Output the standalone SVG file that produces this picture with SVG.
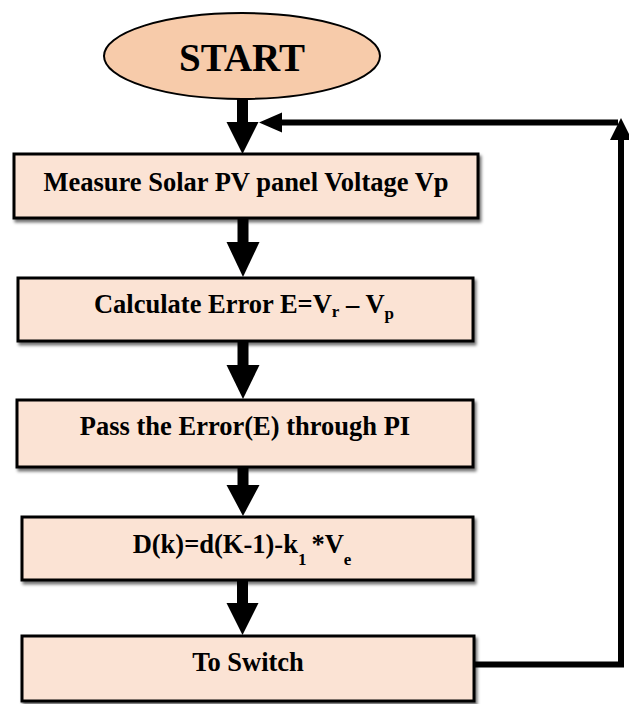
<svg xmlns="http://www.w3.org/2000/svg" width="629" height="704" viewBox="0 0 629 704">
<defs>
<style>
.box{fill:#FBE3D4;stroke:#000;stroke-width:3;filter:url(#sh)}
.term{fill:#F7CBAA;stroke:#000;stroke-width:2}
.lbl{font-family:"Liberation Serif","Times New Roman",serif;font-weight:bold;font-size:26.5px;fill:#000;text-anchor:middle}
.sub{font-size:17px}
.shaft{stroke:#000;stroke-width:11;fill:none}
.fb{stroke:#000;stroke-width:6;fill:none}
.head{fill:#000}
</style>
<filter id="sh" x="-5%" y="-20%" width="115%" height="150%">
<feDropShadow dx="2" dy="3" stdDeviation="1.5" flood-color="#000" flood-opacity="0.55"/>
</filter>
</defs>
<rect width="629" height="704" fill="#fff"/>
<g id="connectors">
<line class="shaft" x1="242.5" y1="98" x2="242.5" y2="124"/>
<polygon class="head" points="226.5,122 258.5,122 242.5,154"/>
<line class="shaft" x1="243" y1="219" x2="243" y2="244"/>
<polygon class="head" points="226.5,242 259.5,242 243,277"/>
<line class="shaft" x1="243" y1="342" x2="243" y2="367"/>
<polygon class="head" points="226.5,365 259.5,365 243,399"/>
<line class="shaft" x1="243" y1="468" x2="243" y2="487"/>
<polygon class="head" points="226.5,485 259.5,485 243,516"/>
<line class="shaft" x1="242.5" y1="581" x2="242.5" y2="605"/>
<polygon class="head" points="226.5,603 258.5,603 242.5,635"/>
<polyline class="fb" points="474,664.5 621,664.5 621,138"/>
<polygon class="head" points="610,140 632,140 621,118"/>
<line class="fb" x1="618" y1="122.5" x2="280" y2="122.5"/>
<polygon class="head" points="282,112.5 282,132.5 259,122.5"/>
</g>
<g id="start">
<ellipse class="term" cx="242" cy="56" rx="138" ry="43"/>
<text class="lbl" x="242" y="71" style="font-size:39px">START</text>
</g>
<g id="measure">
<rect class="box" x="14" y="154" width="464" height="64"/>
<text class="lbl" x="246" y="191">Measure Solar PV panel Voltage Vp</text>
</g>
<g id="calculate">
<rect class="box" x="18" y="278" width="455" height="63"/>
<text class="lbl" x="244" y="313">Calculate Error E=V<tspan class="sub" dy="4">r</tspan><tspan dy="-4"> – V</tspan><tspan class="sub" dy="6">p</tspan></text>
</g>
<g id="passpi">
<rect class="box" x="17" y="400" width="456" height="67"/>
<text class="lbl" x="245" y="435">Pass the Error(E) through PI</text>
</g>
<g id="duty">
<rect class="box" x="22" y="517" width="451" height="63"/>
<text class="lbl" x="242" y="553">D(k)=d(K-1)-k<tspan class="sub" dy="12">1</tspan><tspan dx="5" dy="-12">*V</tspan><tspan class="sub" dy="12">e</tspan></text>
</g>
<g id="toswitch">
<rect class="box" x="22" y="636" width="452" height="65"/>
<text class="lbl" x="248" y="671">To Switch</text>
</g>
</svg>
